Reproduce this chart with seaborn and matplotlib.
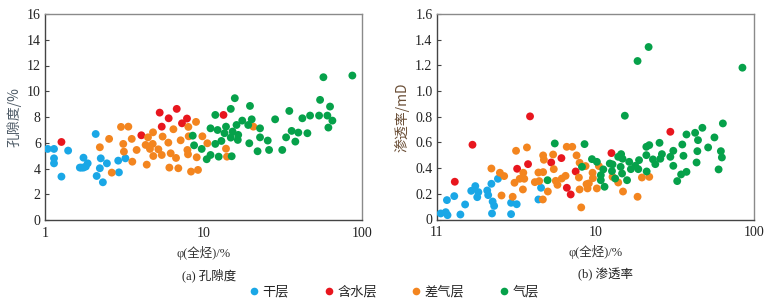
import numpy as np
import pandas as pd
import matplotlib
matplotlib.use("Agg")
import matplotlib.pyplot as plt
import seaborn as sns
from matplotlib.ticker import FixedLocator, FixedFormatter, NullLocator
from matplotlib.lines import Line2D

sns.set_theme(style="white")
plt.rcParams['font.family'] = ['Liberation Serif', 'Noto Sans CJK SC', 'DejaVu Sans']

categories = ["干层", "含水层", "差气层", "气层"]
colors = ["#1AA7E6", "#E8161E", "#F3851F", "#06A14A"]

# ---------- (a) porosity ----------
dry_x_a = [1.04, 1.14, 1.14, 1.14, 1.27, 1.40, 1.66, 1.75, 1.75, 1.81, 1.86, 1.70,
           2.09, 2.12, 2.25, 2.22, 2.32, 2.46, 2.90, 2.93, 3.22]
dry_y_a = [5.52, 5.52, 4.79, 4.40, 3.37, 5.39, 4.07, 4.84, 4.07, 4.15, 4.40, 4.07,
           6.68, 3.42, 4.79, 4.02, 2.93, 4.40, 4.61, 3.70, 4.79]
wat_x_a = [1.27, 4.06, 5.30, 5.46, 6.04, 6.79, 7.33, 7.88, 13.4]
wat_y_a = [6.06, 6.58, 8.34, 7.25, 7.90, 8.63, 7.51, 7.88, 8.16]
poor_x_a = [2.22, 2.54, 2.64, 3.02, 3.12, 3.15, 3.36, 3.53, 3.56, 3.79, 4.32, 4.39,
            4.47, 4.60, 4.79, 4.81, 4.83, 5.20, 5.46, 5.53, 6.01, 6.10, 6.22, 6.47,
            6.72, 6.95, 7.19, 7.93, 8.00, 8.04, 8.08, 8.36, 8.99, 9.08, 9.25, 9.86,
            10.6, 13.9, 14.1, 20.7]
poor_y_a = [5.65, 6.30, 3.68, 7.23, 5.91, 5.31, 7.25, 6.30, 4.53, 5.44, 5.83, 4.30,
            6.42, 5.52, 5.91, 6.81, 4.97, 5.49, 5.05, 6.48, 6.01, 4.07, 5.18, 7.05,
            4.82, 4.02, 6.19, 5.44, 5.10, 7.23, 6.50, 3.76, 7.62, 4.87, 3.89, 6.50,
            5.96, 5.54, 4.92, 7.25]
gas_x_a = [8.57, 8.74, 9.76, 10.5, 11.1, 11.1, 11.9, 11.9, 12.3, 12.5, 13.0, 13.6,
           13.9, 14.9, 14.9, 15.1, 15.3, 15.8, 16.2, 16.6, 16.5, 17.6, 19.2, 19.5,
           19.7, 20.2, 22.0, 22.8, 22.8, 25.5, 26.0, 28.4, 31.5, 33.3, 34.9, 36.1,
           38.1, 39.8, 42.2, 45.4, 47.2, 53.8, 54.6, 57.3, 60.7, 61.6, 63.1, 65.3, 87.3]
gas_y_a = [6.55, 5.80, 5.52, 4.72, 5.05, 7.12, 8.16, 5.91, 6.99, 4.92, 6.14, 6.74,
           7.25, 8.63, 6.40, 4.95, 6.87, 9.46, 7.38, 6.61, 6.22, 7.72, 7.38, 5.96,
           8.86, 7.82, 5.34, 7.12, 6.42, 6.17, 5.44, 7.82, 5.44, 6.42, 8.47, 6.92,
           6.09, 6.79, 7.90, 6.74, 8.11, 8.11, 9.33, 11.09, 8.11, 7.18, 8.81, 7.72, 11.22]

# ---------- (b) permeability ----------
dry_x_b = [1.06, 1.14, 1.17, 1.16, 1.29, 1.41, 1.51, 1.65, 1.75, 1.83, 1.80, 2.08,
           2.11, 2.21, 2.23, 2.25, 2.30, 2.43, 2.94, 2.94, 3.19, 4.37, 4.54]
dry_y_b = [0.047, 0.057, 0.034, 0.151, 0.182, 0.039, 0.117, 0.223, 0.260, 0.213,
           0.174, 0.226, 0.190, 0.278, 0.047, 0.140, 0.106, 0.317, 0.130, 0.042,
           0.119, 0.156, 0.247]
wat_x_b = [1.30, 1.68, 3.21, 3.76, 3.87, 5.26, 6.10, 6.60, 6.98, 7.50, 12.6, 29.6]
wat_y_b = [0.294, 0.582, 0.395, 0.431, 0.803, 0.444, 0.478, 0.247, 0.195, 0.374,
           0.517, 0.683]
poor_x_b = [2.21, 2.50, 2.56, 2.66, 3.01, 3.09, 3.16, 3.33, 3.51, 3.49, 3.56, 3.70,
            4.15, 4.37, 4.42, 4.66, 4.68, 4.68, 4.73, 5.01, 5.41, 5.46, 5.62, 5.76,
            6.13, 6.48, 6.59, 7.14, 7.60, 7.86, 7.94, 7.94, 8.13, 8.66, 8.78, 8.91,
            9.08, 9.58, 9.63, 10.2, 10.5, 12.8, 13.9, 14.9, 18.4, 19.6, 21.8]
poor_y_b = [0.397, 0.364, 0.187, 0.338, 0.177, 0.286, 0.535, 0.317, 0.364, 0.234,
            0.317, 0.561, 0.291, 0.366, 0.299, 0.156, 0.369, 0.499, 0.465, 0.218,
            0.506, 0.392, 0.301, 0.270, 0.319, 0.340, 0.566, 0.566, 0.499, 0.327,
            0.442, 0.234, 0.094, 0.416, 0.275, 0.242, 0.281, 0.364, 0.322, 0.242,
            0.416, 0.332, 0.288, 0.218, 0.177, 0.327, 0.332]
gas_x_b = [4.99, 5.54, 8.22, 8.53, 9.50, 10.2, 10.8, 10.8, 11.2, 11.4, 12.3, 12.7,
           12.8, 13.3, 13.9, 14.4, 14.5, 14.7, 14.8, 15.3, 15.8, 16.3, 16.7, 17.8,
           18.4, 18.8, 18.6, 20.9, 20.9, 21.0, 21.6, 21.8, 23.0, 23.8, 25.3, 25.6,
           26.2, 29.6, 30.9, 30.9, 32.7, 34.6, 35.2, 35.8, 37.4, 37.4, 42.4, 43.3,
           43.8, 44.2, 47.1, 51.2, 56.1, 59.6, 61.6, 62.5, 63.4, 84.2]
gas_y_b = [0.306, 0.592, 0.410, 0.587, 0.470, 0.449, 0.345, 0.306, 0.390, 0.255,
           0.436, 0.377, 0.429, 0.319, 0.488, 0.410, 0.509, 0.358, 0.473, 0.808,
           0.306, 0.449, 0.392, 0.418, 1.234, 0.462, 0.392, 0.501, 0.566, 0.374,
           1.343, 0.579, 0.468, 0.431, 0.597, 0.473, 0.509, 0.488, 0.418, 0.535,
           0.299, 0.351, 0.584, 0.496, 0.662, 0.371, 0.675, 0.444, 0.532, 0.618,
           0.714, 0.561, 0.639, 0.390, 0.532, 0.483, 0.748, 1.182]

x_ticks = [1, 10, 100]
x_ticklabels_a = ["1", "10", "100"]
x_ticklabels_b = ["11", "10", "100"]
y_ticks_a = [0, 2, 4, 6, 8, 10, 12, 14, 16]
y_ticks_b = [0, 0.2, 0.4, 0.6, 0.8, 1.0, 1.2, 1.4, 1.6]
y_ticklabels_b = ["0", "0.2", "0.4", "0.6", "0.8", "1.0", "1.2", "1.4", "1.6"]


def frame(xs, ys):
    parts = []
    for cat, x, y in zip(categories, xs, ys):
        parts.append(pd.DataFrame({"x": x, "y": y, "cat": cat}))
    return pd.concat(parts, ignore_index=True)


df_a = frame([dry_x_a, wat_x_a, poor_x_a, gas_x_a], [dry_y_a, wat_y_a, poor_y_a, gas_y_a])
df_b = frame([dry_x_b, wat_x_b, poor_x_b, gas_x_b], [dry_y_b, wat_y_b, poor_y_b, gas_y_b])
palette = dict(zip(categories, colors))

fig = plt.figure(figsize=(7.77, 3.03), dpi=100)
ax1 = fig.add_axes([45 / 777, 1 - 220 / 303, 316.7 / 777, 206 / 303])
ax2 = fig.add_axes([436.7 / 777, 1 - 219.5 / 303, 317.6 / 777, 205.5 / 303])

cjk = ["Noto Sans CJK SC", "Liberation Serif"]
mixed = ["Liberation Serif", "Noto Sans CJK SC"]

for ax, df, yt, ytl, xtl, ylim, ylab, ycol in [
    (ax1, df_a, y_ticks_a, [str(v) for v in y_ticks_a], x_ticklabels_a, (0, 16), "孔隙度/%", "#4d5a66"),
    (ax2, df_b, y_ticks_b, y_ticklabels_b, x_ticklabels_b, (0, 1.6), "渗透率/mD", "#6a4e36"),
]:
    sns.scatterplot(data=df, x="x", y="y", hue="cat", palette=palette,
                    hue_order=categories, s=32, linewidth=0, alpha=1,
                    legend=False, ax=ax, zorder=3)
    ax.set_xscale("log")
    ax.set_xlim(1, 100)
    ax.set_ylim(*ylim)
    ax.xaxis.set_major_locator(FixedLocator(x_ticks))
    ax.xaxis.set_major_formatter(FixedFormatter(xtl))
    ax.xaxis.set_minor_locator(NullLocator())
    ax.set_yticks(yt)
    ax.set_yticklabels(ytl)
    ax.tick_params(axis="y", direction="in", length=3, width=0.8, color="#444444",
                   pad=3, labelsize=10, labelcolor="#222222", left=True)
    ax.tick_params(axis="x", length=0, pad=5, labelsize=10, labelcolor="#222222")
    for lab in ax.get_xticklabels() + ax.get_yticklabels():
        lab.set_fontfamily("Liberation Serif")
    for side in ["left", "bottom"]:
        ax.spines[side].set_color("#444444")
        ax.spines[side].set_linewidth(1.0)
    for side in ["top", "right"]:
        ax.spines[side].set_color("#8a8a8a")
        ax.spines[side].set_linewidth(1.0)
    ax.set_xlabel("φ(全烃)/%", fontsize=9, family=mixed, color="#333333", labelpad=4)
    ax.set_ylabel(ylab, fontsize=10, family=cjk, color=ycol, labelpad=4)
    ax.grid(False)

fig.text(209 / 777, 1 - 275 / 303, "(a) 孔隙度", ha="center", va="center",
         fontsize=9, family=mixed, color="#222222")
fig.text(605 / 777, 1 - 275 / 303, "(b) 渗透率", ha="center", va="center",
         fontsize=9, family=mixed, color="#222222")

handles = [Line2D([], [], marker="o", linestyle="", markersize=5.5,
                  markerfacecolor=c, markeredgewidth=0) for c in colors]
leg = fig.legend(handles, categories, loc="center", bbox_to_anchor=(394 / 777, 1 - 292 / 303),
                 ncol=4, frameon=False, handletextpad=0.25, columnspacing=2.6,
                 handlelength=0.8, prop={"family": cjk, "size": 9.5})

fig.savefig("out.png", dpi=100)
